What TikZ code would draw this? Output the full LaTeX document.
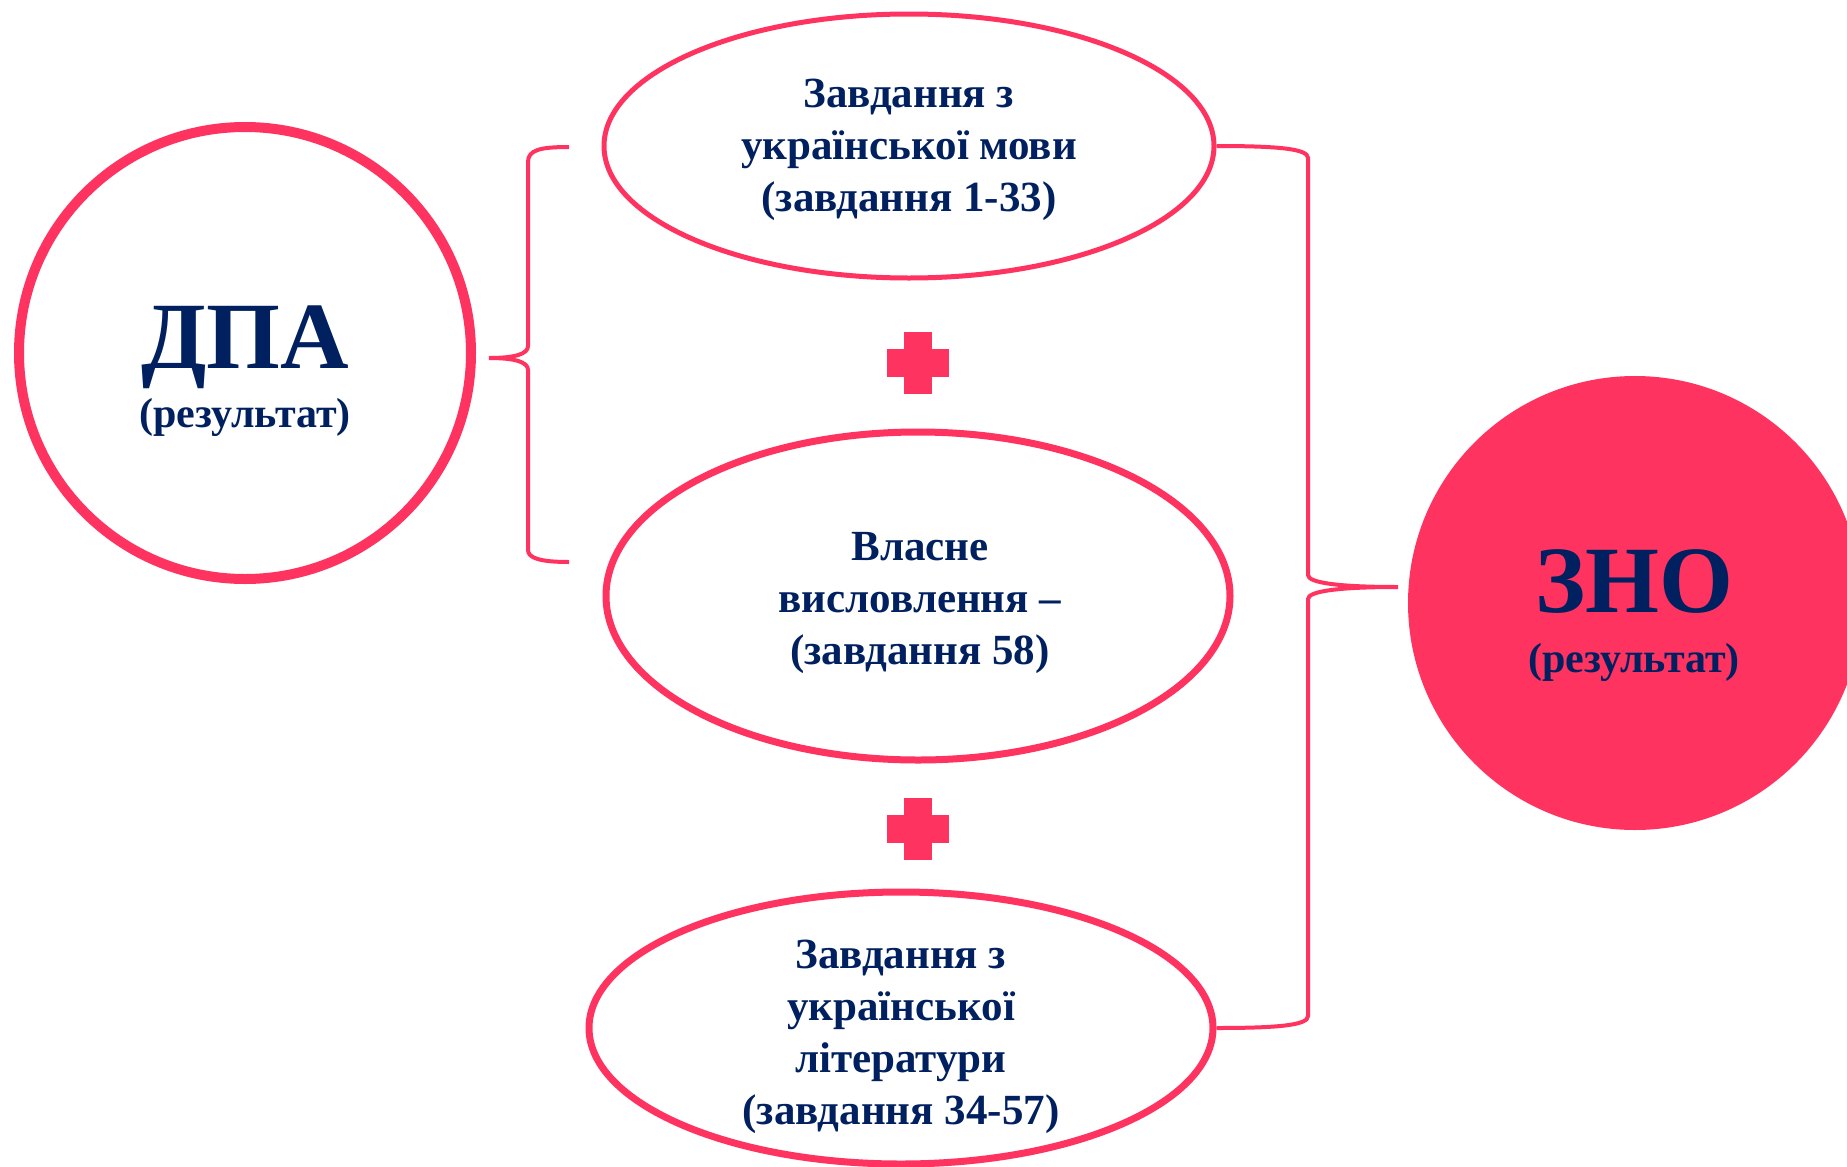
\documentclass[tikz,border=0pt]{standalone}
\usepackage{fontspec}
\setmainfont{Liberation Serif}
\usetikzlibrary{shapes.geometric}
\definecolor{zpink}{RGB}{255,51,96}
\definecolor{znavy}{RGB}{0,32,96}
\begin{document}
\begin{tikzpicture}[x=1pt,y=-1pt,
    ell/.style={draw=zpink,ellipse,inner sep=0pt},
    txt/.style={text=znavy,font=\bfseries\fontsize{43}{52}\selectfont,align=center},
    bigtxt/.style={text=znavy,font=\bfseries\fontsize{95}{95}\selectfont,anchor=base},
    subtxt/.style={text=znavy,font=\bfseries\fontsize{42}{48}\selectfont,anchor=base},
    brace/.style={draw=zpink,line width=4pt},
    plusbar/.style={fill=zpink,inner sep=0pt}]
  \useasboundingbox (0,0) rectangle (1847,1167);
  \clip (0,0) rectangle (1847,1167);
  \node[draw=zpink,line width=10pt,circle,inner sep=0pt,minimum size=452pt] (dpa) at (245,353) {};
  \node[bigtxt] (dpat) at (245,368) {ДПА};
  \node[subtxt] (dpar) at (245,427) {(результат)};
  \node[fill=zpink,circle,inner sep=0pt,minimum size=454pt] (zno) at (1635,603) {};
  \node[bigtxt] (znot) at (1634,612) {ЗНО};
  \node[subtxt] (znor) at (1634,672) {(результат)};
  \node[ell,line width=5pt,minimum width=610pt,minimum height=264pt] (top) at (909,146) {};
  \node[ell,line width=7pt,minimum width=624pt,minimum height=328pt] (mid) at (918,596) {};
  \node[ell,line width=7pt,minimum width=624pt,minimum height=272pt] (bot) at (901,1028) {};
  \node[txt] (topt) at (909,150) {Завдання з\\української мови\\(завдання 1-33)};
  \node[txt] (midt) at (920,603) {Власне\\висловлення –\\(завдання 58)};
  \node[txt] (bott) at (901,1037) {Завдання з\\української\\літератури\\(завдання 34-57)};
  \node[plusbar,minimum width=62pt,minimum height=28pt] (plusa) at (918,363) {};
  \node[plusbar,minimum width=28pt,minimum height=62pt] (plusav) at (plusa) {};
  \node[plusbar,minimum width=62pt,minimum height=28pt] (plusb) at (918,829) {};
  \node[plusbar,minimum width=28pt,minimum height=62pt] (plusbv) at (plusb) {};
  \coordinate (lt) at (569,147);
  \coordinate (lb) at (569,562);
  \coordinate (ltip) at (489,358);
  \coordinate (rtip) at (1398,587);
  \draw[brace] (lt) .. controls (540,147) and (528,150) .. (528,162) -- (528,346)
    .. controls (528,354) and (515,358) .. (ltip)
    .. controls (515,358) and (528,362) .. (528,370) -- (528,550)
    .. controls (528,558) and (540,562) .. (lb);
  \draw[brace] (top.east) .. controls (1280,146) and (1308,149) .. (1308,158) -- (1308,575)
    .. controls (1308,583) and (1340,587) .. (rtip)
    .. controls (1340,587) and (1308,591) .. (1308,599) -- (1308,1016)
    .. controls (1308,1025) and (1280,1028) .. (bot.east);
\end{tikzpicture}
\end{document}
